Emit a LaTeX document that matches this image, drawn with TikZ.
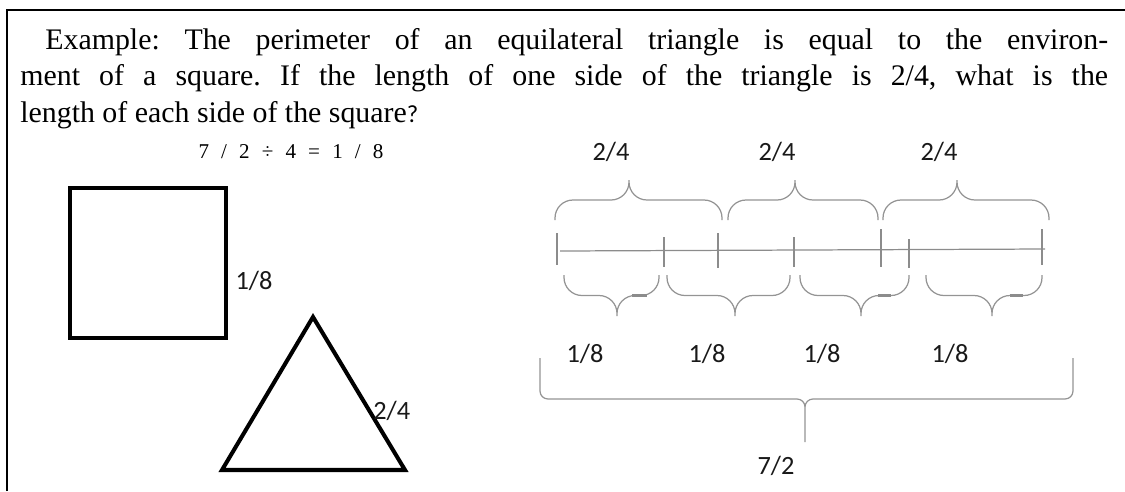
\documentclass[tikz,border=0pt]{standalone}
\usepackage{fontspec}
\setmainfont{Liberation Serif}
\newfontfamily\labelfont{Carlito}
\usetikzlibrary{positioning}

\begin{document}
\begin{tikzpicture}[x=0.02cm,y=-0.02cm,
  shape line/.style={line width=2.3pt,line join=miter},
  brace line/.style={draw=black!42,line width=0.7pt,rounded corners=0.36cm},
  big brace/.style={draw=black!42,line width=0.7pt,rounded corners=0.16cm},
  tick line/.style={draw=black!45,line width=0.7pt},
  frac label/.style={font=\labelfont\fontsize{15}{17}\selectfont,text=black!90,inner sep=0pt}]
  \useasboundingbox (0,0) rectangle (1125,491);
  % frame
  \draw[line width=1.2pt] (7,491) -- (7,10) -- (1125,10);
  % question
  \node[anchor=base west,inner sep=0pt,text width=21.76cm,align=justify,
        font=\fontsize{17}{21}\selectfont\frenchspacing] (question) at (20,49)
    {\hspace*{0.5cm}Example: The perimeter of an equilateral triangle is equal to the environ-\linebreak
     ment of a square. If the length of one side of the triangle is 2/4, what is the\linebreak
     length of each side of the square{\labelfont\fontsize{14}{16}\selectfont ?}};
  \node[font=\fontsize{12}{14}\selectfont,inner sep=0pt] (calc) at (291,152)
    {\makebox[3.7cm][s]{7 / 2 ÷ 4 = 1 / 8}};
  % square and triangle
  \draw[shape line] (70,188) rectangle (226,338);
  \node[frac label] (sqside) at (254,281) {1/8};
  \coordinate (T1) at (313,317);
  \coordinate (T2) at (405,470);
  \coordinate (T3) at (222,470);
  \draw[shape line] (T1) -- (T2) -- (T3) -- cycle;
  \node[frac label,anchor=west] (triside) at (373,411) {2/4};
  % number line
  \draw[tick line] (560,251) -- (1045,249);
  \foreach \x/\ya/\yb in {557/233/265, 664/237/267, 718/233/268, 794/237/267,
                         881/229/267, 909/239/268, 1042/229/265}
    \draw[tick line] (\x,\ya) -- (\x,\yb);
  % upper braces
  \foreach \xl/\xt/\xr [count=\i] in {555/629/722, 728/795/878, 883/957/1049} {
    \draw[brace line] (\xl,220) |- (\xt,200) -- (\xt,180)
                      (\xr,220) |- (\xt,200) -- (\xt,180);
    \node[frac label] (third\i) at (\xt-18,152) {2/4};
  }
  % lower braces
  \foreach \xl/\xt/\xr/\xq [count=\i] in {564/617/659/585, 667/735/790/707,
                                          800/861/909/822, 926/992/1042/950} {
    \draw[brace line] (\xl,275) |- (\xt,295.5) -- (\xt,316)
                      (\xr,275) |- (\xt,295.5) -- (\xt,316);
    \node[frac label] (eighth\i) at (\xq,354) {1/8};
  }
  \draw[black!45,line width=1.3pt] (632,295.5) -- (647,295.5);
  \draw[black!45,line width=1.3pt] (878,295.5) -- (891,295.5);
  \draw[black!45,line width=1.3pt] (1010,295.5) -- (1023,295.5);
  % whole length
  \draw[big brace] (540,358) |- (805,399) -- (805,442)
                   (1073,358) |- (805,399) -- (805,442);
  \node[frac label] (whole) at (776,466) {7/2};
\end{tikzpicture}
\end{document}
